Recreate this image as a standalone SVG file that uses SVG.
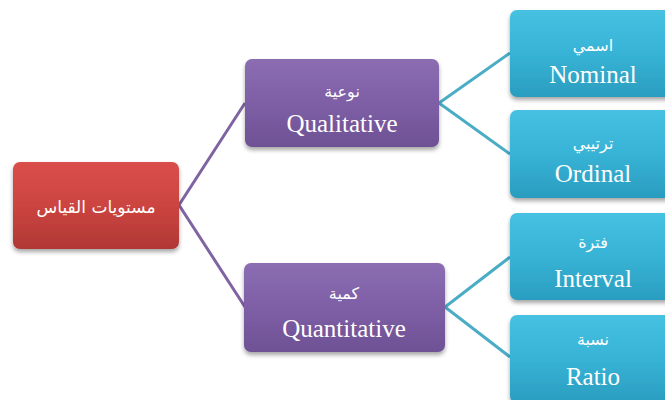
<svg xmlns="http://www.w3.org/2000/svg" width="665" height="400" viewBox="0 0 665 400">
<style>
.lat{font-family:"Liberation Serif","DejaVu Serif",serif;font-size:25px;fill:#fff;text-anchor:middle}
.ar{font-family:"DejaVu Sans","Noto Sans",sans-serif;font-size:16px;fill:#fff;text-anchor:middle}
.arr{font-family:"DejaVu Sans","Noto Sans",sans-serif;font-size:17px;fill:#fff;text-anchor:middle}
.cp{fill:none;stroke:#8064a2;stroke-width:3}
.cc{fill:none;stroke:#4bacc6;stroke-width:3}
</style>
<defs>
<linearGradient id="gr" x1="0" y1="0" x2="0" y2="1"><stop offset="0" stop-color="#da4f4b"/><stop offset="0.5" stop-color="#cc4440"/><stop offset="1" stop-color="#b03835"/></linearGradient>
<linearGradient id="gp" x1="0" y1="0" x2="0" y2="1"><stop offset="0" stop-color="#8b6db2"/><stop offset="0.5" stop-color="#7e5fa6"/><stop offset="1" stop-color="#6e5194"/></linearGradient>
<linearGradient id="gc" x1="0" y1="0" x2="0" y2="1"><stop offset="0" stop-color="#46c1e1"/><stop offset="0.5" stop-color="#37b3d6"/><stop offset="1" stop-color="#2a9dbf"/></linearGradient>
<filter id="sh" x="-10%" y="-10%" width="120%" height="130%"><feDropShadow dx="0" dy="3" stdDeviation="2" flood-color="#000" flood-opacity="0.35"/></filter>
</defs>
<g id="connectors">
<polyline class="cp" points="245,103 179,205 245,307"/>
<polyline class="cc" points="510,53 439,103 510,154"/>
<polyline class="cc" points="510,257 445,307 510,357"/>
</g>
<g id="root"><rect x="13" y="162" width="166" height="87" rx="7" fill="url(#gr)" filter="url(#sh)"/><text class="arr" x="96" y="213">مستويات القياس</text></g>
<g id="qualitative"><rect x="245" y="59" width="194" height="88" rx="7" fill="url(#gp)" filter="url(#sh)"/><text class="ar" x="342" y="97">نوعية</text><text class="lat" x="342" y="132">Qualitative</text></g>
<g id="quantitative"><rect x="244" y="263" width="201" height="89" rx="7" fill="url(#gp)" filter="url(#sh)"/><text class="ar" x="344" y="299">كمية</text><text class="lat" x="344" y="337">Quantitative</text></g>
<g id="nominal"><rect x="510" y="10" width="165" height="87" rx="7" fill="url(#gc)" filter="url(#sh)"/><text class="ar" x="593" y="51">اسمي</text><text class="lat" x="593" y="83">Nominal</text></g>
<g id="ordinal"><rect x="510" y="110" width="165" height="88" rx="7" fill="url(#gc)" filter="url(#sh)"/><text class="ar" x="593" y="149">ترتيبي</text><text class="lat" x="593" y="182">Ordinal</text></g>
<g id="interval"><rect x="510" y="213" width="165" height="87" rx="7" fill="url(#gc)" filter="url(#sh)"/><text class="ar" x="593" y="248">فترة</text><text class="lat" x="593" y="287">Interval</text></g>
<g id="ratio"><rect x="510" y="315" width="165" height="88" rx="7" fill="url(#gc)" filter="url(#sh)"/><text class="ar" x="593" y="345">نسبة</text><text class="lat" x="593" y="385">Ratio</text></g>
</svg>
